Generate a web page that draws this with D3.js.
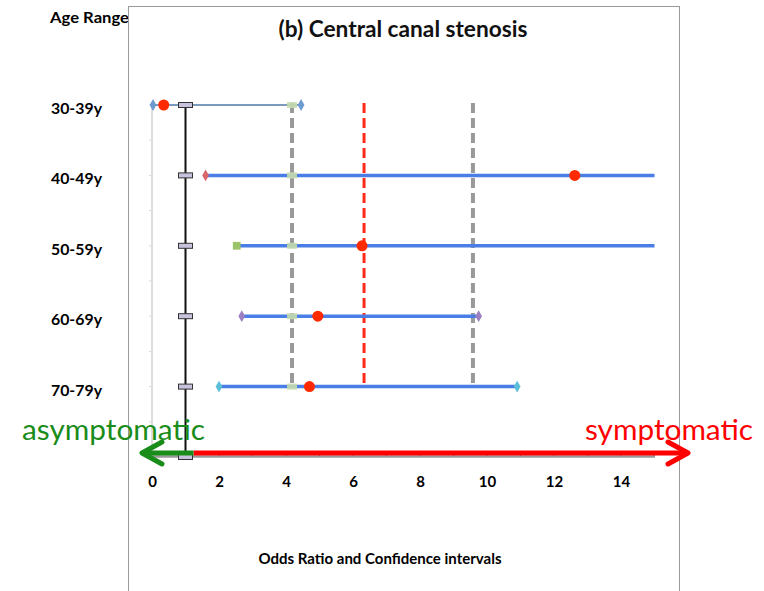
<!DOCTYPE html>
<html><head><meta charset="utf-8">
<script src="https://cdn.jsdelivr.net/npm/d3@7"></script>
<style>body{margin:0;background:#fff}svg{display:block}</style>
</head><body>
<script>
const categories = ["30-39y","40-49y","50-59y","60-69y","70-79y"];
const oddsRatio  = [0.35, 12.62, 6.27, 4.95, 4.7];
const ciLower    = [0.03, 1.6, 2.53, 2.68, 2.0];
const ciUpper    = [4.45, 15, 15, 9.75, 10.9];
const endColors  = ["#6d9bd1","#d9686a","#9bc46a","#9c7fc0","#5bbfd8"];
const endShapes  = ["diamond","diamond","square","diamond","diamond"];
const pooledOR = 6.33, pooledLower = 4.18, pooledUpper = 9.58;
const xTicks = [0,2,4,6,8,10,12,14];

const W = 764, H = 591;
const svg = d3.select("body").append("svg").attr("width", W).attr("height", H);
const font = "Lato, 'Open Sans', sans-serif";

const x = d3.scaleLinear().domain([0, 15]).range([152, 654.5]);
const y = d3.scaleLinear().domain([1, 6]).range([457, 105]);
const yCat = i => y(6 - i);

// Age Range label (under frame)
svg.append("text").attr("x", 50).attr("y", 23).text("Age Range")
  .attr("font-family", font).attr("font-weight", 700).attr("font-size", 15).attr("fill", "#000")
  .attr("textLength", 79).attr("lengthAdjust", "spacingAndGlyphs");

// frame
svg.append("rect").attr("x", 128.5).attr("y", 6.5).attr("width", 551).attr("height", 600)
  .attr("fill", "none").attr("stroke", "#9a9a9a").attr("stroke-width", 1);

// title
svg.append("text").attr("x", 403).attr("y", 37).attr("text-anchor", "middle")
  .text("(b) Central canal stenosis")
  .attr("font-family", font).attr("font-weight", 700).attr("font-size", 22).attr("fill", "#111")
  .attr("textLength", 249).attr("lengthAdjust", "spacingAndGlyphs");

// category labels
svg.append("g").selectAll("text").data(categories).join("text")
  .attr("x", 51).attr("y", (d, i) => yCat(i) + 9).text(d => d)
  .attr("font-family", font).attr("font-weight", 700).attr("font-size", 15.5).attr("fill", "#000")
  .attr("textLength", 51).attr("lengthAdjust", "spacingAndGlyphs");

// faint y axis line at x=0
svg.append("line").attr("x1", x(0)).attr("x2", x(0)).attr("y1", y(6)).attr("y2", 455)
  .attr("stroke", "#c8c8c8").attr("stroke-width", 1.2);
const halfSteps = d3.range(1.5, 6.01, 0.5);
svg.append("g").selectAll("line").data(halfSteps).join("line")
  .attr("x1", x(0) - 3).attr("x2", x(0)).attr("y1", d => y(d)).attr("y2", d => y(d))
  .attr("stroke", "#d8d8d8").attr("stroke-width", 1);

// x axis
const xAxis = d3.axisBottom(x).tickValues(xTicks).tickSize(0).tickPadding(20).tickFormat(d3.format("d"));
const gx = svg.append("g").attr("transform", "translate(0,456)").call(xAxis);
gx.select(".domain").attr("stroke", "#999").attr("stroke-width", 2.5);
gx.selectAll("text").attr("font-family", font).attr("font-weight", 700).attr("font-size", 15).attr("fill", "#000");
svg.append("g").selectAll("line").data(xTicks.concat([1,3,5,7,9,11,13,15])).join("line")
  .attr("x1", d => x(d)).attr("x2", d => x(d)).attr("y1", 452).attr("y2", 456)
  .attr("stroke", "#777").attr("stroke-width", 1);

// pooled dashed lines
const dashTop = y(6) - 2, dashBottom = y(2);
[[pooledLower, "#999"], [pooledUpper, "#999"], [pooledOR, "#ff2a1a"]].forEach(([v, c]) => {
  svg.append("line").attr("x1", x(v)).attr("x2", x(v)).attr("y1", dashTop).attr("y2", dashBottom)
    .attr("stroke", c).attr("stroke-width", v === pooledOR ? 3 : 4).attr("stroke-dasharray", "10,5");
});

// CI lines
const rows = categories.map((c, i) => ({c, i, or: oddsRatio[i], lo: ciLower[i], hi: ciUpper[i]}));
svg.append("g").selectAll("line").data(rows).join("line")
  .attr("x1", d => x(d.lo)).attr("x2", d => x(d.hi))
  .attr("y1", d => yCat(d.i)).attr("y2", d => yCat(d.i))
  .attr("stroke", d => d.i === 0 ? "#4f78a6" : "#4a7ee6")
  .attr("stroke-width", d => d.i === 0 ? 1.6 : 3.5);

// light green markers at pooled lower
svg.append("g").selectAll("rect").data(rows).join("rect")
  .attr("x", x(pooledLower) - 5).attr("y", d => yCat(d.i) - 3).attr("width", 10).attr("height", 6)
  .attr("fill", "#c6dcae").attr("opacity", 0.9);

// black reference line at OR = 1
svg.append("line").attr("x1", x(1)).attr("x2", x(1)).attr("y1", y(6)).attr("y2", y(1))
  .attr("stroke", "#111").attr("stroke-width", 2);
svg.append("g").selectAll("rect").data(d3.range(1, 7)).join("rect")
  .attr("x", x(1) - 7).attr("y", d => y(d) - 2.5).attr("width", 14).attr("height", 5)
  .attr("fill", "#c9c2dc").attr("stroke", "#333").attr("stroke-width", 1);

// end markers
const ends = [];
rows.forEach(r => {
  ends.push({v: r.lo, i: r.i});
  if (r.hi < 15) ends.push({v: r.hi, i: r.i});
});
svg.append("g").selectAll("path").data(ends).join("path")
  .attr("transform", d => `translate(${x(d.v)},${yCat(d.i)})`)
  .attr("d", d => endShapes[d.i] === "square"
      ? d3.symbol(d3.symbolSquare, 60)()
      : d3.symbol(d3.symbolDiamond, 40)())
  .attr("fill", d => endColors[d.i]);

// odds ratio dots
svg.append("g").selectAll("circle").data(rows).join("circle")
  .attr("cx", d => x(d.or)).attr("cy", d => yCat(d.i)).attr("r", 5.5)
  .attr("fill", "#ff2a00");

// arrows
const ay = 453;
function arrow(x1, x2, color) {
  const dir = Math.sign(x2 - x1);
  svg.append("line").attr("x1", x1).attr("x2", x2 - dir * 2).attr("y1", ay).attr("y2", ay)
    .attr("stroke", color).attr("stroke-width", 5);
  svg.append("path")
    .attr("d", `M${x2 - dir * 20},${ay - 11} L${x2},${ay} L${x2 - dir * 20},${ay + 11}`)
    .attr("fill", "none").attr("stroke", color).attr("stroke-width", 5)
    .attr("stroke-linecap", "round").attr("stroke-linejoin", "round");
}
arrow(x(1) + 8, 688, "#ff0000");
arrow(x(1) + 8, 142, "#1a8c1a");

svg.append("text").attr("x", 22).attr("y", 440).text("asymptomatic")
  .attr("font-family", font).attr("font-size", 29).attr("fill", "#1a8c1a")
  .attr("textLength", 183).attr("lengthAdjust", "spacingAndGlyphs");
svg.append("text").attr("x", 585).attr("y", 440).text("symptomatic")
  .attr("font-family", font).attr("font-size", 29).attr("fill", "#ff0000")
  .attr("textLength", 168).attr("lengthAdjust", "spacingAndGlyphs");

// x axis title
svg.append("text").attr("x", 380).attr("y", 564).attr("text-anchor", "middle")
  .text("Odds Ratio and Confidence intervals")
  .attr("font-family", font).attr("font-weight", 700).attr("font-size", 14.5).attr("fill", "#000")
  .attr("textLength", 243).attr("lengthAdjust", "spacingAndGlyphs");
</script>
</body></html>
